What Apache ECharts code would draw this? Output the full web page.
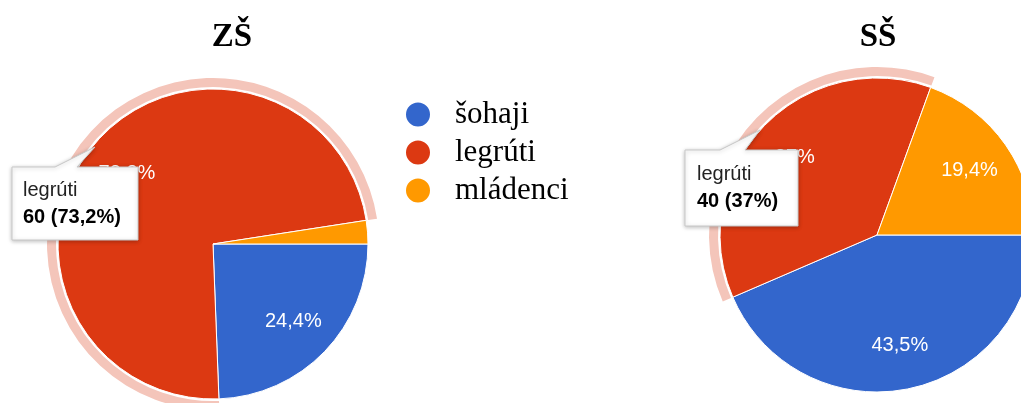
<!DOCTYPE html>
<html>
<head>
<meta charset="utf-8">
<script src="https://cdn.jsdelivr.net/npm/echarts@6/dist/echarts.min.js"></script>
<style>
html,body{margin:0;padding:0;background:#fff;}
#main{width:1021px;height:403px;}
</style>
</head>
<body>
<div id="main"></div>
<script>
const categories = ['šohaji', 'legrúti', 'mládenci'];
const zsValues = [20, 60, 2];
const ssValues = [47, 40, 21];
const chartTitles = ['ZŠ', 'SŠ'];
const colors = ['#3366cc', '#dc3912', '#ff9900'];
const highlightIndex = 1;

function pct(v, total) {
  let s = (v / total * 100).toFixed(1);
  if (s.endsWith('.0')) s = s.slice(0, -2);
  return s.replace('.', ',');
}

const sans = 'Liberation Sans, Arial, sans-serif';
const serif = 'Liberation Serif, Times New Roman, serif';

function buildSeries(values, center, R) {
  const total = values.reduce((a, b) => a + b, 0);
  const main = {
    type: 'pie', center: center, radius: [0, R], startAngle: 0, clockwise: true,
    silent: true, z: 2, label: { show: false }, labelLine: { show: false },
    emphasis: { disabled: true },
    itemStyle: { borderColor: '#fff', borderWidth: 1 },
    data: categories.map((c, i) => ({ name: c, value: values[i], itemStyle: { color: colors[i] } }))
  };
  const labels = {
    type: 'pie', center: center, radius: [0, R * 1.4], startAngle: 0, clockwise: true,
    silent: true, z: 3, minShowLabelAngle: 15, emphasis: { disabled: true },
    itemStyle: { color: 'rgba(0,0,0,0)', borderWidth: 0 },
    labelLine: { show: false },
    label: {
      show: true, position: 'inside', color: '#fff', fontSize: 20, fontFamily: sans,
      formatter: p => pct(p.value, total) + '%'
    },
    data: categories.map((c, i) => ({ name: c, value: values[i] }))
  };
  const ring = {
    type: 'pie', center: center, radius: [R + 2, R + 11], startAngle: 0, clockwise: true,
    silent: true, z: 1, label: { show: false }, labelLine: { show: false },
    emphasis: { disabled: true },
    itemStyle: { borderWidth: 0 },
    data: categories.map((c, i) => ({ name: c, value: values[i],
      itemStyle: { color: i === highlightIndex ? '#f4c5ba' : 'rgba(0,0,0,0)' } }))
  };
  return [main, labels, ring];
}

function tooltipGraphic(values, box, tip, textX, y1, y2) {
  const total = values.reduce((a, b) => a + b, 0);
  const [x0, y0, x1, yb] = box;
  const [bl, tx, ty, br] = tip;
  return [
    { type: 'polygon', z: 100, shape: { points: [[x0, y0], [bl, y0], [tx, ty], [br, y0], [x1, y0], [x1, yb], [x0, yb]] },
      style: { fill: '#fff', stroke: '#c8c8c8', lineWidth: 1, shadowBlur: 4, shadowColor: 'rgba(0,0,0,0.25)', shadowOffsetY: 1 } },
    { type: 'text', z: 101, style: { x: textX, y: y1, text: categories[highlightIndex], font: '20px ' + sans, fill: '#222', verticalAlign: 'middle' } },
    { type: 'text', z: 101, style: { x: textX, y: y2, text: values[highlightIndex] + ' (' + pct(values[highlightIndex], total) + '%)', font: 'bold 20px ' + sans, fill: '#000', verticalAlign: 'middle' } }
  ];
}

const chart = echarts.init(document.getElementById('main'));
chart.setOption({
  animation: false,
  title: [
    { text: chartTitles[0], left: 227, top: 16, textAlign: 'center', textStyle: { fontFamily: serif, fontWeight: 'bold', fontSize: 33, color: '#000' } },
    { text: chartTitles[1], left: 873, top: 16, textAlign: 'center', textStyle: { fontFamily: serif, fontWeight: 'bold', fontSize: 33, color: '#000' } }
  ],
  legend: {
    orient: 'vertical', left: 399, top: 94, icon: 'circle',
    itemWidth: 64, itemHeight: 26, itemGap: 7, selectedMode: false,
    textStyle: { fontFamily: serif, fontSize: 31, color: '#000', lineHeight: 26 },
    data: categories.map((c, i) => ({ name: c, itemStyle: { color: colors[i] } }))
  },
  series: [
    ...buildSeries(zsValues, [213, 244], 155),
    ...buildSeries(ssValues, [877, 235], 157)
  ],
  graphic: [
    ...tooltipGraphic(zsValues, [12, 167, 138, 240], [55, 95, 147, 77], 23, 190, 217),
    ...tooltipGraphic(ssValues, [685, 150, 798, 226], [720, 760, 130, 745], 697, 174, 201)
  ]
});
</script>
</body>
</html>
